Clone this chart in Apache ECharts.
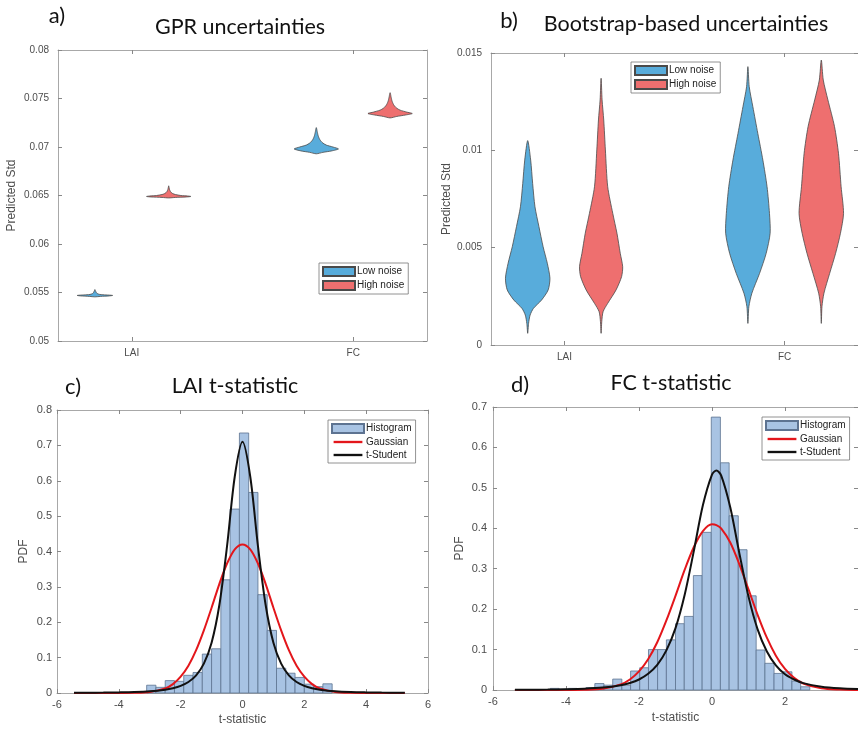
<!DOCTYPE html>
<html>
<head>
<meta charset="utf-8">
<title>Uncertainties and t-statistics</title>
<script src="https://cdn.jsdelivr.net/npm/echarts@6/dist/echarts.min.js"></script>
<style>
  html, body { margin: 0; padding: 0; background: #fff; }
  #chart { width: 858px; height: 729px; }
</style>
</head>
<body>
<div id="chart"></div>
<script>
// ---- values ----
const categories = ['LAI', 'FC'];
const categoryPos = [1, 2];
const noiseNames = ['Low noise', 'High noise'];

// a) GPR uncertainties: violin outlines, y level -> half width (x units)
const gprLaiLowY = [0.05455, 0.0546, 0.05465, 0.0547, 0.05475, 0.0548, 0.0549, 0.055, 0.0551, 0.0552, 0.0553];
const gprLaiLowW = [0, 0.025, 0.065, 0.08, 0.05, 0.022, 0.01, 0.006, 0.004, 0.002, 0];
const gprLaiHighY = [0.06475, 0.0648, 0.06485, 0.0649, 0.06495, 0.065, 0.0651, 0.0652, 0.0653, 0.0654, 0.0655, 0.0656, 0.0657, 0.0658, 0.066];
const gprLaiHighW = [0, 0.03, 0.08, 0.1, 0.085, 0.055, 0.03, 0.018, 0.012, 0.008, 0.006, 0.004, 0.003, 0.002, 0];
const gprFcLowY = [0.0693, 0.06945, 0.0696, 0.0698, 0.07, 0.0702, 0.0704, 0.0706, 0.0708, 0.071, 0.0712, 0.0714, 0.0716, 0.0718, 0.072];
const gprFcLowW = [0, 0.03, 0.07, 0.1, 0.075, 0.045, 0.03, 0.021, 0.015, 0.011, 0.008, 0.006, 0.004, 0.0025, 0];
const gprFcHighY = [0.073, 0.07315, 0.0733, 0.07345, 0.0736, 0.0738, 0.074, 0.0742, 0.0744, 0.0746, 0.0748, 0.075, 0.0752, 0.0754, 0.0756];
const gprFcHighW = [0, 0.03, 0.07, 0.1, 0.075, 0.045, 0.03, 0.021, 0.015, 0.011, 0.008, 0.006, 0.004, 0.0025, 0];

// b) bootstrap uncertainties
const bootLaiLowY = [0.0006, 0.00111, 0.00154, 0.00188, 0.00231, 0.00283, 0.00343, 0.0042, 0.00505, 0.00608, 0.0071, 0.0083, 0.0095, 0.0105];
const bootLaiLowW = [0, 0.004, 0.011, 0.026, 0.063, 0.093, 0.101, 0.089, 0.07, 0.051, 0.033, 0.0225, 0.0135, 0];
const bootLaiHighY = [0.0006, 0.0012, 0.00171, 0.00214, 0.00283, 0.00351, 0.00402, 0.00471, 0.00574, 0.00676, 0.00813, 0.01002, 0.01156, 0.01259, 0.0137];
const bootLaiHighW = [0, 0.003, 0.009, 0.03, 0.068, 0.093, 0.098, 0.087, 0.072, 0.053, 0.03, 0.0195, 0.012, 0.0045, 0];
const bootFcLowY = [0.00111, 0.00197, 0.00266, 0.00368, 0.00471, 0.00574, 0.00676, 0.00813, 0.0095, 0.01087, 0.01224, 0.01327, 0.0143];
const bootFcLowW = [0, 0.0045, 0.018, 0.053, 0.083, 0.101, 0.098, 0.087, 0.068, 0.045, 0.0225, 0.006, 0];
const bootFcHighY = [0.00111, 0.00197, 0.00266, 0.00368, 0.00471, 0.00574, 0.00676, 0.00813, 0.00985, 0.01122, 0.01259, 0.01361, 0.01464];
const bootFcHighW = [0, 0.003, 0.012, 0.038, 0.065, 0.087, 0.101, 0.09, 0.078, 0.06, 0.03, 0.009, 0];

// c) LAI t-statistic
const lai_binEdges = [-3.1, -2.8, -2.5, -2.2, -1.9, -1.6, -1.3, -1.0, -0.7, -0.4, -0.1, 0.2, 0.5, 0.8, 1.1, 1.4, 1.7, 2.0, 2.3, 2.6, 2.9];
const lai_hist = [0.022, 0.016, 0.035, 0.033, 0.05, 0.058, 0.11, 0.125, 0.32, 0.52, 0.735, 0.567, 0.278, 0.177, 0.07, 0.056, 0.044, 0.025, 0.018, 0.026];
const lai_curveX = [-5.45, -5, -4.5, -4, -3.5, -3, -2.5, -2.25, -2, -1.75, -1.5, -1.25, -1, -0.75, -0.5, -0.25, 0,
  0.25, 0.5, 0.75, 1, 1.25, 1.5, 1.75, 2, 2.25, 2.5, 3, 3.5, 4, 4.5, 5, 5.25];
const lai_gauss = [0, 0, 0, 0.0001, 0.0005, 0.003, 0.013, 0.025, 0.046, 0.077, 0.121, 0.177, 0.241, 0.308, 0.366, 0.406, 0.42,
  0.406, 0.366, 0.308, 0.241, 0.177, 0.121, 0.077, 0.046, 0.025, 0.013, 0.003, 0.0005, 0.0001, 0, 0, 0];
const lai_tstud = [0.0005, 0.0007, 0.0011, 0.0017, 0.0027, 0.0049, 0.0094, 0.0135, 0.02, 0.031, 0.05, 0.083, 0.142, 0.248, 0.415, 0.612, 0.71,
  0.612, 0.415, 0.248, 0.142, 0.083, 0.05, 0.031, 0.02, 0.0135, 0.0094, 0.0049, 0.0027, 0.0017, 0.0011, 0.0007, 0.0005];

// d) FC t-statistic
const fc_binEdges = [-4.43, -4.19, -3.94, -3.7, -3.45, -3.21, -2.96, -2.72, -2.47, -2.23, -1.98, -1.74, -1.49, -1.25, -1.0,
  -0.76, -0.51, -0.27, -0.02, 0.23, 0.47, 0.72, 0.96, 1.21, 1.45, 1.7, 1.94, 2.19, 2.43, 2.68];
const fc_hist = [0.004, 0.002, 0.004, 0.002, 0.006, 0.016, 0.012, 0.027, 0.012, 0.047, 0.055, 0.1, 0.1, 0.124, 0.164,
  0.182, 0.283, 0.39, 0.675, 0.562, 0.431, 0.347, 0.233, 0.099, 0.066, 0.041, 0.045, 0.022, 0.008];
const fc_curveX = [-5.4, -5, -4.5, -4, -3.5, -3, -2.5, -2.25, -2, -1.75, -1.5, -1.25, -1, -0.75, -0.5, -0.25, 0, 0.12,
  0.25, 0.5, 0.75, 1, 1.25, 1.5, 1.75, 2, 2.25, 2.5, 3, 3.5, 4, 4.5];
const fc_gauss = [0, 0, 0, 0.0001, 0.0005, 0.003, 0.014, 0.026, 0.046, 0.076, 0.118, 0.172, 0.233, 0.297, 0.353, 0.393, 0.41, 0.408,
  0.4, 0.365, 0.311, 0.249, 0.186, 0.13, 0.085, 0.052, 0.03, 0.016, 0.004, 0.001, 0.0002, 0];
const fc_tstud = [0.0004, 0.0006, 0.001, 0.0018, 0.0031, 0.0059, 0.012, 0.0175, 0.026, 0.04, 0.062, 0.098, 0.153, 0.235, 0.343, 0.457, 0.533, 0.543,
  0.531, 0.452, 0.338, 0.231, 0.15, 0.096, 0.061, 0.039, 0.026, 0.017, 0.0082, 0.0042, 0.0023, 0.0014];

// ---- styling ----
const groupOffset = 1 / 6;
const blue = '#58acdb';
const red = '#ee6f6f';
const histFill = '#a8c3e3';
const histEdge = '#5d7391';
const outline = '#4a4a4a';
const axisColor = '#a8a8a8';
const labelColor = '#4d4d4d';
const sans = 'Liberation Sans, Arial, sans-serif';
const titleFont = 'Lato, sans-serif';
// thin horizontal bar inside a taller box: a line swatch for the legend
const lineIcon = 'path://M0,0 M0,10 M0,3.7 L32,3.7 L32,6.3 L0,6.3 Z';

const chart = echarts.init(document.getElementById('chart'));

function violinRender(ys, ws, centers, fill) {
  return function (params, api) {
    const i = params.dataIndex;
    const y = ys[i], w = ws[i], cx = centers[i];
    const pts = [];
    for (let k = 0; k < y.length; k++) pts.push(api.coord([cx + w[k], y[k]]));
    for (let k = y.length - 2; k > 0; k--) pts.push(api.coord([cx - w[k], y[k]]));
    return {
      type: 'polygon',
      shape: { points: pts, smooth: 0.25 },
      style: { fill: fill, stroke: outline, lineWidth: 0.8 },
    };
  };
}

function violinSeries(name, gridIndex, ys, ws, side, fill) {
  const centers = categoryPos.map((p) => p + side * groupOffset);
  return {
    name: name,
    type: 'custom',
    xAxisIndex: gridIndex * 2,
    yAxisIndex: gridIndex * 2,
    renderItem: violinRender(ys, ws, centers, fill),
    itemStyle: { color: fill, borderColor: outline, borderWidth: 0.8 },
    data: centers.map((c, i) => [c, ys[i][0]]),
    silent: true,
  };
}

function histSeries(gridIndex, edges, heights) {
  return {
    name: 'Histogram',
    type: 'custom',
    xAxisIndex: gridIndex * 2,
    yAxisIndex: gridIndex * 2,
    encode: { x: [0, 1], y: 2 },
    itemStyle: { color: histFill, borderColor: histEdge, borderWidth: 0.8 },
    renderItem: (params, api) => {
      const tl = api.coord([api.value(0), api.value(2)]);
      const br = api.coord([api.value(1), 0]);
      return {
        type: 'rect',
        shape: { x: tl[0], y: tl[1], width: br[0] - tl[0], height: br[1] - tl[1] },
        style: { fill: histFill, stroke: histEdge, lineWidth: 0.8 },
      };
    },
    data: heights.map((h, i) => [edges[i], edges[i + 1], h]),
    silent: true,
  };
}

function curveSeries(name, gridIndex, xs, ys, color) {
  return {
    name: name,
    type: 'line',
    xAxisIndex: gridIndex * 2,
    yAxisIndex: gridIndex * 2,
    data: xs.map((x, i) => [x, ys[i]]),
    smooth: 0.3,
    symbol: 'none',
    color: color,
    lineStyle: { color: color, width: 2 },
    silent: true,
  };
}

// a value axis plus a mirrored copy (MATLAB style box with ticks on every side)
function axes(gridIndex, dim, opt) {
  const base = {
    gridIndex: gridIndex,
    type: 'value',
    min: opt.min,
    max: opt.max,
    interval: opt.interval,
    splitLine: { show: false },
    axisLine: { show: true, onZero: false, lineStyle: { color: axisColor, width: 1 } },
    axisTick: { show: true, inside: true, length: 4, lineStyle: { color: '#888' }, customValues: opt.ticks },
  };
  const main = Object.assign({}, base, {
    position: dim === 'x' ? 'bottom' : 'left',
    axisLabel: {
      color: labelColor, fontSize: opt.fontSize, fontFamily: sans, margin: opt.margin,
      customValues: opt.ticks, formatter: opt.formatter, showMaxLabel: opt.showMax !== false,
    },
    name: opt.name,
    nameLocation: 'middle',
    nameGap: opt.nameGap,
    nameTextStyle: { color: labelColor, fontSize: 12, fontFamily: sans },
  });
  const mirror = Object.assign({}, base, {
    position: dim === 'x' ? 'top' : 'right',
    axisLabel: { show: false },
  });
  return [main, mirror];
}

const catAxis = {
  min: 2 / 3, max: 7 / 3, ticks: categoryPos, fontSize: 10, margin: 7,
  formatter: (v) => categories[Math.round(v) - 1],
};

const xAxes = [].concat(
  axes(0, 'x', catAxis),
  axes(1, 'x', catAxis),
  axes(2, 'x', { min: -6, max: 6, interval: 2, fontSize: 11, margin: 6, name: 't-statistic', nameGap: 21 }),
  axes(3, 'x', { min: -6, max: 4, interval: 2, fontSize: 11, margin: 6, name: 't-statistic', nameGap: 22, showMax: false })
);
const yAxes = [].concat(
  axes(0, 'y', { min: 0.05, max: 0.08, interval: 0.005, fontSize: 10, margin: 9, name: 'Predicted Std', nameGap: 40 }),
  axes(1, 'y', { min: 0, max: 0.015, interval: 0.005, fontSize: 10, margin: 9, name: 'Predicted Std', nameGap: 38 }),
  axes(2, 'y', { min: 0, max: 0.8, interval: 0.1, fontSize: 11, margin: 5, name: 'PDF', nameGap: 27 }),
  axes(3, 'y', { min: 0, max: 0.7, interval: 0.1, fontSize: 11, margin: 6, name: 'PDF', nameGap: 27 })
);

function legendBox(left, top, names) {
  return {
    orient: 'vertical',
    left: left,
    top: top,
    data: names,
    selectedMode: false,
    itemWidth: 32,
    itemHeight: 9,
    itemGap: 3,
    padding: [3, 4, 3, 3],
    borderColor: '#777',
    borderWidth: 0.8,
    backgroundColor: '#fff',
    textStyle: { fontSize: 10, color: '#222', fontFamily: sans, padding: [0, 0, 0, -3] },
  };
}

const histLegend = [
  { name: 'Histogram', icon: 'rect' },
  { name: 'Gaussian', icon: lineIcon },
  { name: 't-Student', icon: lineIcon },
];
const noiseLegend = noiseNames.map((n) => ({ name: n, icon: 'rect' }));

function label(text, x, y, size) {
  return {
    type: 'text',
    x: x,
    y: y,
    style: { text: text, fill: '#111', fontSize: size, fontFamily: titleFont, align: 'center', verticalAlign: 'middle' },
  };
}

chart.setOption({
  animation: false,
  backgroundColor: '#fff',
  grid: [
    { left: 58, top: 50, width: 369, height: 291 },
    { left: 491, top: 53, width: 370, height: 292 },
    { left: 57, top: 410, width: 371, height: 283 },
    { left: 493, top: 407, width: 367, height: 283 },
  ],
  xAxis: xAxes,
  yAxis: yAxes,
  legend: [
    legendBox(319, 263, noiseLegend),
    legendBox(631, 62, noiseLegend),
    legendBox(328, 420, histLegend),
    legendBox(762, 417, histLegend),
  ],
  graphic: [
    label('a)', 57, 16, 22),
    label('GPR uncertainties', 240, 27, 21.5),
    label('b)', 509, 21, 22),
    label('Bootstrap-based uncertainties', 686, 24, 21.5),
    label('c)', 73, 387, 22),
    label('LAI t-statistic', 235, 386, 21.5),
    label('d)', 520, 385, 22),
    label('FC t-statistic', 671, 383, 21.5),
  ],
  series: [
    violinSeries('Low noise', 0, [gprLaiLowY, gprFcLowY], [gprLaiLowW, gprFcLowW], -1, blue),
    violinSeries('High noise', 0, [gprLaiHighY, gprFcHighY], [gprLaiHighW, gprFcHighW], 1, red),
    violinSeries('Low noise', 1, [bootLaiLowY, bootFcLowY], [bootLaiLowW, bootFcLowW], -1, blue),
    violinSeries('High noise', 1, [bootLaiHighY, bootFcHighY], [bootLaiHighW, bootFcHighW], 1, red),
    histSeries(2, lai_binEdges, lai_hist),
    curveSeries('Gaussian', 2, lai_curveX, lai_gauss, '#e3161b'),
    curveSeries('t-Student', 2, lai_curveX, lai_tstud, '#111111'),
    histSeries(3, fc_binEdges, fc_hist),
    curveSeries('Gaussian', 3, fc_curveX, fc_gauss, '#e3161b'),
    curveSeries('t-Student', 3, fc_curveX, fc_tstud, '#111111'),
  ],
});
</script>
</body>
</html>
